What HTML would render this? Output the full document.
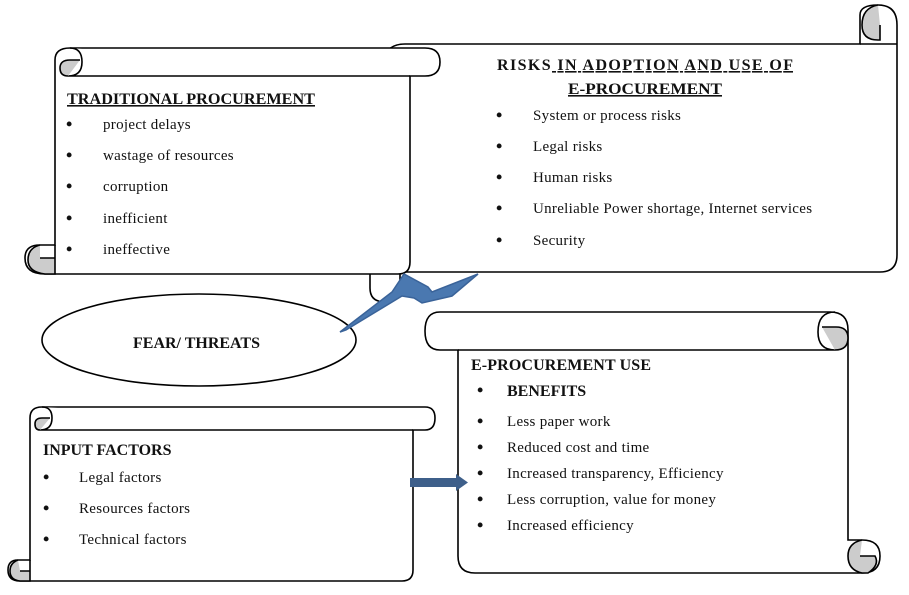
<!DOCTYPE html>
<html><head><meta charset="utf-8"><style>
body{margin:0;background:#fff}
svg{display:block}
text{font-family:"Liberation Serif",serif;font-size:15px;fill:#111;letter-spacing:0.3px}
.b{font-weight:bold;font-size:16px;letter-spacing:0}
.d{font-size:18px;font-weight:bold}
</style></head><body>
<svg width="909" height="595" viewBox="0 0 909 595">
<g stroke="#000" stroke-width="1.6" fill="#fff">
<path d="M380 76 Q380 44 405 44 L860 44 L860 15 Q860 5 878 5 Q897 5 897 25 L897 255 Q897 272 880 272 L400 272 L400 290 Q400 302 385 302 Q370 302 370 288 L370 90 Q370 76 380 76 Z"/>
<path d="M860 44 L897 44"/>
<path d="M878 5 Q862 8 862 25 Q862 40 878 40 L880 40 L880 25" fill="#ccc"/>
<path d="M55 60 Q55 48 70 48 L425 48 Q440 48 440 62 Q440 76 425 76 L410 76 L410 262 Q410 274 398 274 L45 274 Q25 274 25 258 Q25 245 40 245 L55 245 Z"/>
<path d="M70 48 Q82 48 82 62 Q82 76 68 76 L410 76"/>
<path d="M68 76 Q60 76 60 68 Q60 60 70 60 L80 60" fill="#ccc"/>
<path d="M55 245 L55 274 M40 245 Q28 248 28 260 Q28 272 45 274 L55 274 L55 258 L40 258" fill="#ccc"/>
<path d="M440 312 L830 312 Q848 312 848 330 L848 540 L862 540 Q880 540 880 556 Q880 573 862 573 L475 573 Q458 573 458 556 L458 350 L440 350 Q425 350 425 331 Q425 312 440 312 Z"/>
<path d="M458 350 L835 350 Q818 350 818 332 Q818 312 835 312"/>
<path d="M835 350 Q848 350 848 338 Q848 327 836 327 L822 327" fill="#ccc"/>
<path d="M862 540 Q848 543 848 556 Q848 570 862 573 L868 573 Q880 565 875 556 L860 556" fill="#ccc"/>
<path d="M30 418 Q30 407 42 407 L425 407 Q435 407 435 418 Q435 430 425 430 L413 430 L413 570 Q413 581 402 581 L20 581 Q8 581 8 570 Q8 560 18 560 L30 560 Z"/>
<path d="M42 407 Q52 407 52 418 Q52 430 40 430 L413 430"/>
<path d="M40 430 Q35 430 35 424 Q35 418 42 418 L50 418" fill="#ccc"/>
<path d="M30 560 L30 581 M18 560 Q10 563 10 571 Q10 580 20 581 L30 581 L30 571 L20 571" fill="#ccc"/>
<ellipse cx="199" cy="340" rx="157" ry="46"/>
</g>
<polygon points="340,332 392,292 404,274 428,287 432,292 478,274 452,296 422,303 414,298 402,296 346,330" fill="#4a78b0" stroke="#3a6399" stroke-width="1.5"/>
<rect x="410" y="478" width="48" height="9" fill="#3e5f8a"/>
<polygon points="456,474 468,482.5 456,491" fill="#3e5f8a"/>

<text x="67" y="104" class="b" text-decoration="underline" textLength="248" lengthAdjust="spacingAndGlyphs">TRADITIONAL PROCUREMENT</text>
<text x="66" y="130" class="d">•</text><text x="103" y="129">project delays</text>
<text x="66" y="161" class="d">•</text><text x="103" y="160">wastage of resources</text>
<text x="66" y="192" class="d">•</text><text x="103" y="191">corruption</text>
<text x="66" y="224" class="d">•</text><text x="103" y="223">inefficient</text>
<text x="66" y="255" class="d">•</text><text x="103" y="254">ineffective</text>

<text x="497" y="70" class="b" textLength="296" lengthAdjust="spacing">RISKS<tspan text-decoration="underline"> IN ADOPTION AND USE OF  </tspan></text>
<text x="568" y="94" class="b" text-decoration="underline" textLength="154" lengthAdjust="spacingAndGlyphs">E-PROCUREMENT</text>
<text x="496" y="121" class="d">•</text><text x="533" y="120">System or process risks</text>
<text x="496" y="152" class="d">•</text><text x="533" y="151">Legal risks</text>
<text x="496" y="183" class="d">•</text><text x="533" y="182">Human risks</text>
<text x="496" y="214" class="d">•</text><text x="533" y="213">Unreliable Power shortage, Internet services</text>
<text x="496" y="246" class="d">•</text><text x="533" y="245">Security</text>

<text x="133" y="348" class="b">FEAR/ THREATS</text>

<text x="471" y="370" class="b" textLength="180" lengthAdjust="spacing">E-PROCUREMENT USE</text>
<text x="477" y="396" class="d">•</text><text x="507" y="396" class="b">BENEFITS</text>
<text x="477" y="427" class="d">•</text><text x="507" y="426">Less paper work</text>
<text x="477" y="453" class="d">•</text><text x="507" y="452">Reduced cost and time</text>
<text x="477" y="479" class="d">•</text><text x="507" y="478">Increased transparency, Efficiency</text>
<text x="477" y="505" class="d">•</text><text x="507" y="504">Less corruption, value for money</text>
<text x="477" y="531" class="d">•</text><text x="507" y="530">Increased efficiency</text>

<text x="43" y="455" class="b">INPUT FACTORS</text>
<text x="43" y="483" class="d">•</text><text x="79" y="482">Legal factors</text>
<text x="43" y="514" class="d">•</text><text x="79" y="513">Resources factors</text>
<text x="43" y="545" class="d">•</text><text x="79" y="544">Technical factors</text>
</svg>
</body></html>
